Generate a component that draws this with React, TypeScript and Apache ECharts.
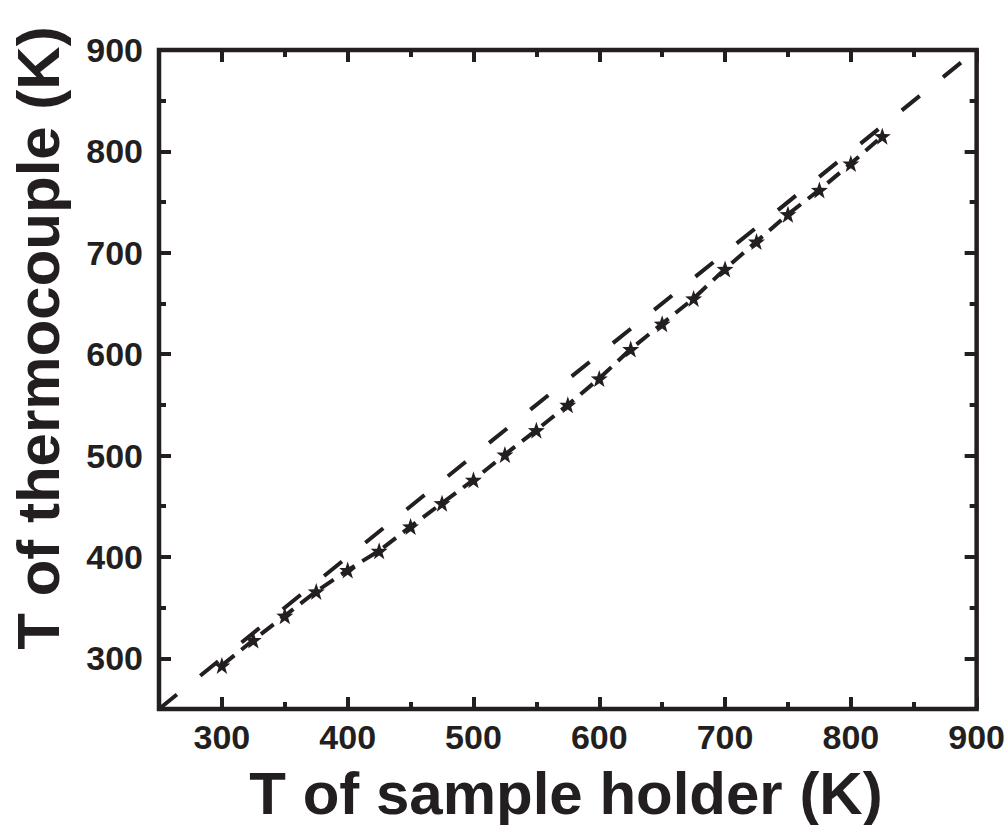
import React, { useEffect, useRef } from "react";
import * as echarts from "echarts";

// Data
const holderT = [300, 325, 350, 375, 400, 425, 450, 475, 500, 525, 550, 575, 600, 625, 650, 675, 700, 725, 750, 775, 800, 825];
const thermoT = [293, 318, 342, 366, 387, 406, 430, 453, 476, 501, 525, 550, 576, 605, 630, 655, 684, 711, 738, 762, 788, 815];
const refLineX = [250, 890];
const majorTicks = [300, 400, 500, 600, 700, 800, 900];
const minorTicks = [250, 350, 450, 550, 650, 750, 850];
const xTitle = "T of sample holder (K)";
const yTitle = "T of thermocouple (K)";

const INK = "#231f20";
const FONT = '"Liberation Sans", Arial, Helvetica, sans-serif';
const STAR =
  "path://M0,-10L2.35,-3.24L9.51,-3.09L3.8,1.24L5.88,8.09L0,4L-5.88,8.09L-3.8,1.24L-9.51,-3.09L-2.35,-3.24Z";

function makeAxis(position: string, ticks: number[], len: number, labels: boolean, isX: boolean) {
  return {
    type: "value",
    position,
    min: 250,
    max: 900,
    axisLine: { show: false, onZero: false },
    axisTick: {
      show: true,
      inside: true,
      length: len,
      customValues: ticks,
      lineStyle: { color: INK, width: 4 },
    },
    axisLabel: labels
      ? {
          show: true,
          customValues: ticks,
          fontSize: 34,
          fontWeight: "bold",
          fontFamily: FONT,
          color: INK,
          margin: isX ? 11 : 16,
        }
      : { show: false },
    splitLine: { show: false },
  };
}

export default function App() {
  const ref = useRef<HTMLDivElement>(null);
  useEffect(() => {
    if (!ref.current) return;
    const chart = echarts.init(ref.current, null, { renderer: "svg" });
    const data = holderT.map((x, i) => [x, thermoT[i]]);
    chart.setOption({
      animation: false,
      backgroundColor: "#ffffff",
      grid: {
        left: 159,
        right: 31,
        top: 50,
        bottom: 116,
        show: true,
        borderColor: INK,
        borderWidth: 4.5,
        backgroundColor: "transparent",
      },
      xAxis: [
        makeAxis("bottom", majorTicks, 12, true, true),
        makeAxis("bottom", minorTicks, 7, false, true),
        makeAxis("top", majorTicks, 12, false, true),
        makeAxis("top", minorTicks, 7, false, true),
      ],
      yAxis: [
        makeAxis("left", majorTicks, 12, true, false),
        makeAxis("left", minorTicks, 7, false, false),
        makeAxis("right", majorTicks, 12, false, false),
        makeAxis("right", minorTicks, 7, false, false),
      ],
      series: [
        {
          type: "line",
          data: refLineX.map((v) => [v, v]),
          showSymbol: false,
          symbol: "none",
          lineStyle: { color: INK, width: 4, type: [23, 30] },
          silent: true,
        },
        {
          type: "line",
          data,
          symbol: STAR,
          symbolSize: 17,
          showSymbol: true,
          itemStyle: { color: INK },
          lineStyle: { color: INK, width: 4, type: [16, 9] },
        },
      ],
      graphic: [
        {
          type: "text",
          x: 566,
          y: 793,
          style: {
            text: xTitle,
            font: `bold 60px ${FONT}`,
            fill: INK,
            textAlign: "center",
            textVerticalAlign: "middle",
          },
        },
        {
          type: "text",
          x: 38,
          y: 338,
          rotation: Math.PI / 2,
          style: {
            text: yTitle,
            font: `bold 60px ${FONT}`,
            fill: INK,
            textAlign: "center",
            textVerticalAlign: "middle",
          },
        },
      ],
    });
    return () => chart.dispose();
  }, []);
  return (
    <div
      ref={ref}
      style={{ width: 1008, height: 825, position: "absolute", left: 0, top: 0 }}
    />
  );
}
